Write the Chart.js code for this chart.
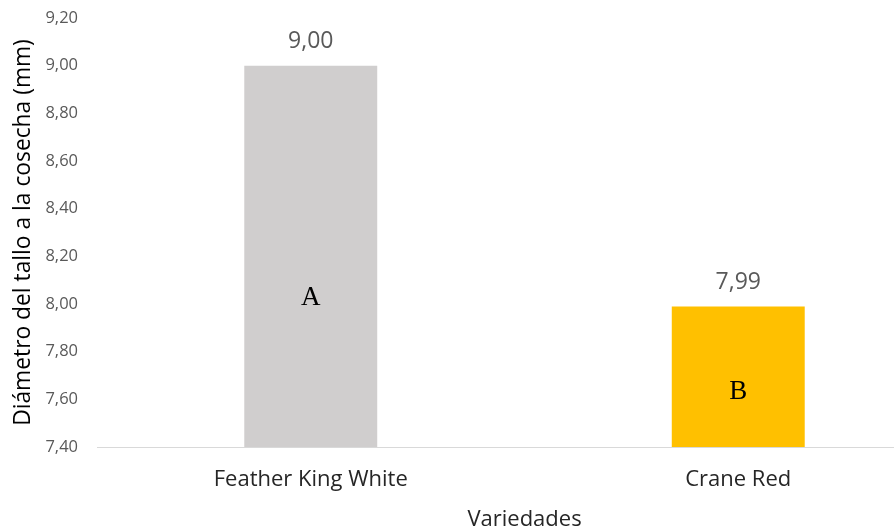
<!DOCTYPE html>
<html>
<head>
<meta charset="utf-8">
<script src="https://cdn.jsdelivr.net/npm/chart.js@4.4.1/dist/chart.umd.min.js"></script>
<style>
  html, body { margin: 0; padding: 0; background: #ffffff; overflow: hidden; width: 894px; height: 529px; }
  canvas { display: block; }
</style>
</head>
<body>
<canvas id="c" width="960" height="529"></canvas>
<script>
const categories = ["Feather King White", "Crane Red"];
const diameters = [9.00, 7.99];
const groupLetters = ["A", "B"];
const barColors = ["#D0CECE", "#FFC000"];
const yMin = 7.40, yMax = 9.20, yStep = 0.20;

const fmt = v => v.toFixed(2).replace('.', ',');
const FONT = "'Open Sans', sans-serif";

const labelPlugin = {
  id: 'labels',
  afterDatasetsDraw(chart) {
    const ctx = chart.ctx;
    const meta = chart.getDatasetMeta(0);
    const ys = chart.scales.y;
    ctx.save();
    meta.data.forEach((bar, i) => {
      ctx.textAlign = 'center';
      ctx.textBaseline = 'middle';
      ctx.fillStyle = '#595959';
      ctx.font = "23px " + FONT;
      ctx.fillText(fmt(diameters[i]), bar.x, bar.y - 24);
      const base = ys.getPixelForValue(yMin);
      const ly = bar.y + (base - bar.y) * 0.61;
      ctx.fillStyle = '#000000';
      ctx.font = "27px 'Liberation Serif', 'DejaVu Serif', serif";
      ctx.fillText(groupLetters[i], bar.x, ly);
    });
    ctx.restore();
  }
};

new Chart(document.getElementById('c'), {
  type: 'bar',
  data: {
    labels: categories,
    datasets: [{
      data: diameters,
      backgroundColor: barColors,
      borderWidth: 0,
      barPercentage: 0.311,
      categoryPercentage: 1.0
    }]
  },
  options: {
    responsive: false,
    animation: false,
    devicePixelRatio: 1,
    layout: { padding: { top: 18, left: 0, right: 8, bottom: 0 } },
    plugins: { legend: { display: false }, tooltip: { enabled: false } },
    scales: {
      y: {
        min: yMin, max: yMax,
        ticks: {
          stepSize: yStep,
          callback: v => fmt(v),
          color: '#595959',
          font: { family: FONT, size: 16.5 },
          padding: 19
        },
        grid: { display: false, drawTicks: false },
        border: { display: false },
        title: {
          display: true,
          text: 'Diámetro del tallo a la cosecha (mm)',
          color: '#000000',
          font: { family: FONT, size: 22.8 },
          padding: { top: 10, bottom: 0 }
        },
        afterFit(s) { s.width = 97; s.paddingTop = 0; s.paddingBottom = 0; }
      },
      x: {
        ticks: {
          color: '#262626',
          font: { family: FONT, size: 22 },
          padding: 20
        },
        grid: { display: false, drawTicks: false },
        border: { display: true, color: '#D9D9D9', width: 1 },
        title: {
          display: true,
          text: 'Variedades',
          color: '#262626',
          font: { family: FONT, size: 22 },
          padding: { top: 0, bottom: -4 }
        },
        afterFit(s) { s.height = 82; s.paddingLeft = 0; s.paddingRight = 0; }
      }
    }
  },
  plugins: [labelPlugin]
});
</script>
</body>
</html>
